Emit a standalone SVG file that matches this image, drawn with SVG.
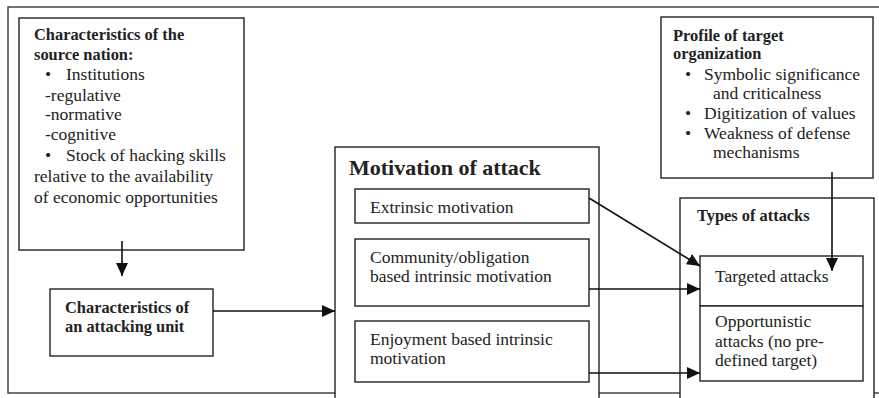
<svg xmlns="http://www.w3.org/2000/svg" width="879" height="398" viewBox="0 0 879 398">
<defs>
<style>
.frame{fill:none;stroke:#444;stroke-width:1.5}
.box{fill:#fff;stroke:#222;stroke-width:1.4}
.conn{fill:none;stroke:#111;stroke-width:1.6}
text{font-family:"Liberation Serif","Times New Roman",serif;fill:#222}
.b{font-weight:bold;font-size:16.4px}
.r{font-size:17.5px}
.h{font-weight:bold;font-size:22px}
</style>
<marker id="ah" markerUnits="userSpaceOnUse" markerWidth="14" markerHeight="12" viewBox="0 0 14 12" refX="13" refY="6" orient="auto">
<path d="M0,0 L13,6 L0,12 Z" fill="#111"/>
</marker>
</defs>
<rect width="879" height="398" fill="#fff"/>
<path class="frame" d="M879,7 H8 V393 H879"/>

<g id="source-nation">
<rect class="box" x="19" y="18" width="225" height="232"/>
<text class="b" x="34" y="40">Characteristics of the</text>
<text class="b" x="34" y="60">source nation:</text>
<text class="r" x="45" y="80">•</text>
<text class="r" x="66" y="80">Institutions</text>
<text class="r" x="45" y="101">-regulative</text>
<text class="r" x="45" y="120">-normative</text>
<text class="r" x="45" y="140">-cognitive</text>
<text class="r" x="45" y="161">•</text>
<text class="r" x="66" y="161">Stock of hacking skills</text>
<text class="r" x="34" y="182">relative to the availability</text>
<text class="r" x="34" y="203">of economic opportunities</text>
</g>

<g id="attacking-unit">
<rect class="box" x="50" y="289" width="163" height="67"/>
<text class="b" x="65" y="313">Characteristics of</text>
<text class="b" x="65" y="332">an attacking unit</text>
</g>

<g id="motivation">
<rect class="box" x="335" y="147" width="264" height="260"/>
<text class="h" x="349" y="175">Motivation of attack</text>
</g>

<g id="extrinsic">
<rect class="box" x="355" y="189" width="234" height="34"/>
<text class="r" x="370" y="213">Extrinsic motivation</text>
</g>

<g id="community">
<rect class="box" x="355" y="239" width="234" height="67"/>
<text class="r" x="370" y="263">Community/obligation</text>
<text class="r" x="370" y="282">based intrinsic motivation</text>
</g>

<g id="enjoyment">
<rect class="box" x="355" y="321" width="234" height="61"/>
<text class="r" x="370" y="345">Enjoyment based intrinsic</text>
<text class="r" x="370" y="364">motivation</text>
</g>

<g id="profile">
<rect class="box" x="661" y="17" width="212" height="161"/>
<text class="b" x="673" y="41">Profile of target</text>
<text class="b" x="673" y="59">organization</text>
<text class="r" x="685" y="80">•</text>
<text class="r" x="704" y="80">Symbolic significance</text>
<text class="r" x="713" y="99">and criticalness</text>
<text class="r" x="685" y="119">•</text>
<text class="r" x="704" y="119">Digitization of values</text>
<text class="r" x="685" y="139">•</text>
<text class="r" x="704" y="139">Weakness of defense</text>
<text class="r" x="713" y="158">mechanisms</text>
</g>

<g id="types">
<rect class="box" x="680" y="198" width="194" height="210"/>
<text class="b" x="697" y="221">Types of attacks</text>
</g>

<g id="targeted">
<rect class="box" x="700" y="256" width="163" height="50"/>
<text class="r" x="715" y="282">Targeted attacks</text>
</g>

<g id="opportunistic">
<rect class="box" x="700" y="306" width="163" height="75"/>
<text class="r" x="715" y="327">Opportunistic</text>
<text class="r" x="715" y="347">attacks (no pre-</text>
<text class="r" x="715" y="366">defined target)</text>
</g>

<g id="connectors">
<line class="conn" x1="122" y1="241" x2="122" y2="276" marker-end="url(#ah)"/>
<line class="conn" x1="213" y1="311" x2="335" y2="311" marker-end="url(#ah)"/>
<line class="conn" x1="589" y1="198" x2="700" y2="266" marker-end="url(#ah)"/>
<line class="conn" x1="589" y1="289" x2="700" y2="289" marker-end="url(#ah)"/>
<line class="conn" x1="589" y1="373" x2="700" y2="373" marker-end="url(#ah)"/>
<line class="conn" x1="832" y1="172" x2="832" y2="271" marker-end="url(#ah)"/>
</g>
</svg>
